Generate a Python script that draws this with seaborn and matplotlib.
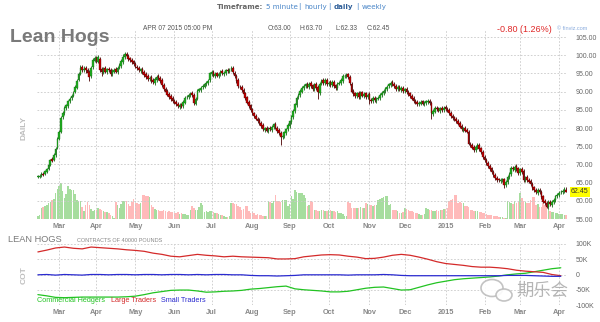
import numpy as np
import pandas as pd
import matplotlib
matplotlib.use("Agg")
import matplotlib.pyplot as plt
import matplotlib.transforms as mtransforms
from matplotlib.patches import Ellipse
import seaborn as sns

# ---------------- data ----------------
title = "Lean Hogs"
last_date = "2015-04-07"

open_ = [
66.5, 66.6, 66.9, 67.5, 67.3, 68.0, 68.7, 69.8, 71.4, 71.1,
72.5, 74.5, 77.1, 79.0, 82.9, 84.1, 85.4, 86.0, 87.5, 88.2,
88.8, 89.9, 91.0, 93.2, 94.9, 96.7, 95.8, 96.5, 95.9, 95.4,
94.2, 96.8, 98.5, 99.3, 98.2, 99.0, 96.2, 95.2, 96.4, 95.3,
96.3, 95.9, 94.7, 95.5, 96.2, 95.3, 96.6, 97.1, 98.2, 99.4,
100.4, 99.9, 99.1, 98.7, 98.3, 97.7, 96.8, 96.5, 95.7, 96.3,
95.3, 94.8, 94.2, 93.4, 94.0, 93.1, 92.4, 93.2, 94.2, 93.8,
93.1, 91.9, 90.8, 90.2, 89.3, 88.8, 88.2, 87.5, 87.2, 86.6,
85.8, 86.5, 86.0, 87.0, 88.4, 88.5, 89.1, 89.6, 89.0, 86.7,
88.1, 90.3, 90.5, 91.2, 91.4, 92.1, 92.3, 93.1, 94.8, 95.4,
94.3, 95.0, 94.3, 94.7, 95.6, 94.9, 95.1, 96.0, 95.5, 96.1,
96.4, 95.2, 94.4, 93.1, 91.4, 91.3, 90.5, 89.5, 88.4, 87.2,
86.2, 85.1, 84.0, 83.4, 82.4, 82.2, 81.5, 80.8, 79.4, 80.1,
79.2, 80.0, 79.5, 80.2, 81.2, 80.0, 79.4, 78.6, 77.4, 77.8,
78.7, 79.7, 80.6, 81.7, 83.1, 84.7, 86.2, 88.4, 89.0, 90.0,
90.9, 91.5, 92.2, 91.3, 92.3, 91.7, 90.6, 92.1, 91.2, 89.7,
92.2, 93.2, 92.3, 93.3, 92.1, 92.7, 91.8, 92.7, 91.7, 90.9,
92.2, 92.4, 93.0, 94.3, 94.2, 94.7, 94.1, 92.2, 90.1, 89.5,
88.7, 89.6, 88.4, 89.8, 88.8, 89.5, 88.5, 89.3, 87.8, 87.3,
88.3, 87.5, 88.1, 88.2, 89.0, 89.5, 90.1, 90.8, 91.5, 91.9,
92.6, 92.1, 91.6, 90.7, 91.4, 90.5, 91.1, 90.1, 90.7, 89.9,
89.5, 88.9, 88.2, 87.5, 87.1, 86.5, 86.7, 87.3, 86.6, 86.8,
87.2, 87.5, 86.8, 83.9, 84.5, 85.6, 85.3, 84.7, 85.5, 84.9,
85.7, 85.3, 84.9, 84.1, 83.3, 82.9, 82.5, 81.9, 81.3, 80.5,
79.5, 80.0, 79.4, 78.9, 75.6, 75.3, 74.7, 73.9, 74.7, 75.3,
74.4, 73.5, 72.1, 71.3, 70.5, 69.6, 68.9, 67.9, 67.1, 66.3,
65.9, 65.5, 65.7, 65.9, 64.3, 65.2, 66.5, 67.4, 69.1, 68.5,
69.5, 68.9, 67.6, 68.7, 68.1, 65.7, 66.5, 65.8, 65.4, 64.7,
63.7, 63.1, 62.1, 63.0, 62.4, 61.2, 59.9, 59.4, 58.3, 59.7,
58.9, 59.7, 60.2, 61.3, 61.6, 62.3, 62.4, 62.7, 63.0]

high = [
67.0, 67.3, 67.8, 67.9, 68.5, 69.0, 70.3, 71.6, 71.9, 73.0,
74.8, 77.5, 79.4, 83.2, 84.6, 86.0, 86.7, 87.8, 88.5, 89.3,
90.2, 91.7, 93.5, 95.3, 97.2, 97.3, 96.9, 97.0, 96.4, 95.9,
97.0, 99.2, 99.8, 99.8, 100.0, 99.5, 96.8, 96.7, 96.9, 96.6,
96.8, 96.4, 96.1, 96.5, 96.7, 96.9, 97.8, 98.9, 100.2, 100.9,
100.9, 100.4, 99.6, 99.2, 98.8, 98.2, 97.3, 97.0, 96.6, 96.8,
95.8, 95.3, 94.7, 94.3, 94.5, 93.6, 93.9, 94.5, 94.7, 94.3,
93.6, 92.4, 91.3, 90.7, 89.8, 89.3, 88.7, 88.0, 87.7, 87.1,
86.9, 87.0, 87.7, 88.8, 89.1, 89.5, 89.9, 90.1, 89.5, 88.5,
90.7, 91.1, 91.5, 92.0, 92.5, 92.9, 93.5, 95.5, 95.8, 95.9,
95.4, 95.5, 95.3, 96.0, 96.1, 95.7, 96.3, 96.5, 96.5, 96.9,
96.9, 95.7, 94.9, 93.6, 91.9, 91.8, 91.0, 90.0, 88.9, 87.7,
86.7, 85.6, 84.5, 83.9, 82.9, 82.7, 82.0, 81.3, 80.4, 80.6,
80.3, 80.5, 80.8, 81.5, 81.7, 80.5, 79.9, 79.1, 78.4, 79.3,
80.1, 81.3, 82.3, 83.7, 85.1, 87.0, 88.8, 89.7, 90.6, 91.5,
92.1, 92.5, 92.7, 92.7, 92.8, 92.2, 92.5, 92.6, 91.7, 92.6,
93.5, 93.7, 93.7, 93.8, 93.0, 93.2, 93.1, 93.2, 92.2, 92.6,
93.0, 93.7, 94.7, 94.9, 95.1, 95.2, 94.6, 92.7, 90.6, 90.0,
90.0, 90.1, 90.2, 90.3, 89.9, 90.0, 89.7, 89.8, 88.3, 88.7,
88.8, 88.5, 88.8, 89.6, 90.1, 90.7, 91.4, 91.9, 92.5, 93.0,
93.1, 92.6, 92.1, 91.8, 91.9, 91.5, 91.6, 91.1, 91.2, 90.4,
90.0, 89.4, 88.7, 88.0, 87.6, 87.3, 87.7, 87.8, 87.4, 87.8,
87.9, 88.0, 87.3, 85.1, 86.0, 86.1, 85.8, 85.9, 86.0, 86.1,
86.2, 85.8, 85.4, 84.6, 83.8, 83.4, 83.0, 82.4, 81.8, 81.0,
80.4, 80.5, 79.9, 79.4, 76.1, 75.8, 75.2, 75.3, 75.8, 75.8,
74.9, 74.0, 72.6, 71.8, 71.0, 70.1, 69.4, 68.4, 67.6, 66.8,
66.4, 66.3, 66.4, 66.4, 65.8, 67.1, 68.0, 69.5, 69.6, 69.9,
70.0, 69.4, 69.1, 69.2, 68.6, 66.9, 67.0, 66.3, 65.9, 65.2,
64.2, 63.6, 63.4, 63.5, 62.9, 61.7, 60.4, 59.9, 60.1, 60.2,
60.3, 60.8, 61.7, 62.2, 62.7, 63.0, 63.3, 63.8, 63.70]

low = [
66.2, 66.3, 66.5, 66.8, 67.0, 67.6, 68.4, 69.5, 70.6, 70.8,
72.1, 74.1, 76.6, 78.6, 82.4, 83.6, 85.0, 85.6, 87.0, 87.8,
88.4, 89.5, 90.6, 92.8, 94.5, 95.5, 95.3, 95.2, 94.6, 93.0,
93.8, 96.3, 98.0, 97.9, 97.8, 95.5, 94.2, 94.8, 95.0, 94.9,
95.3, 94.3, 94.2, 95.0, 95.0, 94.8, 96.1, 96.6, 97.7, 98.9,
99.3, 98.5, 98.1, 97.7, 97.0, 96.4, 95.9, 95.3, 95.2, 94.7,
94.1, 93.5, 93.0, 92.9, 92.5, 92.1, 91.9, 92.7, 93.1, 92.5,
91.3, 90.1, 89.5, 88.7, 88.1, 87.5, 86.9, 86.5, 86.0, 85.5,
85.3, 85.4, 85.5, 86.5, 87.9, 88.0, 88.6, 88.6, 86.3, 86.2,
87.6, 89.8, 90.0, 90.7, 90.9, 91.6, 91.8, 92.6, 94.3, 94.0,
93.8, 93.9, 93.8, 94.2, 94.5, 94.4, 94.6, 95.1, 95.0, 95.6,
94.9, 93.7, 92.5, 91.1, 90.7, 89.9, 88.9, 87.7, 86.5, 85.5,
84.5, 83.6, 82.7, 82.1, 81.5, 80.8, 80.1, 79.1, 78.9, 78.8,
78.7, 79.1, 79.0, 79.7, 79.6, 78.7, 78.0, 75.2, 76.9, 77.3,
78.2, 79.2, 80.1, 81.2, 82.6, 84.2, 85.7, 87.9, 88.5, 89.5,
90.4, 91.0, 90.9, 90.8, 91.1, 90.3, 90.1, 90.5, 88.0, 89.2,
91.7, 91.9, 91.8, 91.5, 91.6, 91.4, 91.3, 91.1, 90.5, 90.4,
91.7, 91.9, 92.5, 93.8, 93.7, 93.5, 91.8, 89.5, 88.9, 88.3,
88.2, 88.0, 87.9, 88.4, 88.3, 88.1, 88.0, 86.5, 86.9, 86.8,
87.1, 87.0, 87.6, 87.7, 88.5, 89.0, 89.6, 90.3, 91.0, 91.4,
91.5, 91.0, 90.3, 90.2, 90.1, 90.0, 89.7, 89.6, 89.3, 88.9,
88.3, 87.6, 86.9, 86.5, 86.1, 86.0, 86.2, 86.2, 86.1, 86.3,
86.7, 86.4, 82.4, 83.4, 84.0, 84.7, 84.3, 84.2, 84.5, 84.4,
84.7, 84.3, 83.5, 82.7, 82.3, 81.9, 81.3, 80.7, 79.9, 79.1,
79.0, 78.8, 78.5, 75.2, 74.7, 74.1, 73.5, 73.4, 74.2, 73.8,
72.9, 71.5, 70.7, 69.9, 69.0, 68.3, 67.3, 66.5, 65.7, 65.3,
65.1, 65.0, 65.2, 63.6, 63.8, 64.7, 66.0, 66.9, 68.1, 68.0,
68.3, 67.2, 67.1, 67.5, 65.3, 65.2, 65.2, 64.8, 64.1, 63.1,
62.5, 61.8, 61.6, 61.8, 60.5, 59.3, 58.8, 57.9, 57.8, 58.5,
58.4, 59.2, 59.7, 60.8, 61.1, 61.8, 61.9, 62.2, 62.33]

close = [
66.7, 66.9, 67.4, 67.2, 68.1, 68.6, 69.9, 71.2, 71.0, 72.6,
74.3, 77.0, 78.8, 82.7, 84.0, 85.5, 86.2, 87.4, 88.0, 88.9,
89.7, 91.2, 93.0, 94.8, 96.6, 96.0, 96.3, 95.8, 95.2, 94.0,
96.5, 98.6, 99.1, 98.4, 99.5, 96.0, 95.4, 96.2, 95.5, 96.1,
95.8, 94.8, 95.6, 96.0, 95.5, 96.4, 97.3, 98.4, 99.6, 100.3,
99.8, 99.0, 98.6, 98.2, 97.5, 96.9, 96.4, 95.8, 96.1, 95.2,
94.6, 94.0, 93.5, 93.8, 93.0, 92.6, 93.4, 94.0, 93.6, 93.0,
91.8, 90.6, 90.0, 89.2, 88.6, 88.0, 87.4, 87.0, 86.5, 86.0,
86.4, 85.9, 87.2, 88.3, 88.6, 89.0, 89.4, 89.1, 86.8, 88.0,
90.2, 90.6, 91.0, 91.5, 92.0, 92.4, 93.0, 95.0, 95.3, 94.5,
94.9, 94.4, 94.8, 95.5, 95.0, 95.2, 95.8, 95.6, 96.0, 96.3,
95.4, 94.2, 93.0, 91.6, 91.2, 90.4, 89.4, 88.2, 87.0, 86.0,
85.0, 84.1, 83.2, 82.6, 82.0, 81.3, 80.6, 79.6, 79.9, 79.3,
79.8, 79.6, 80.3, 81.0, 80.1, 79.2, 78.5, 77.6, 77.9, 78.8,
79.6, 80.8, 81.8, 83.2, 84.6, 86.5, 88.3, 89.2, 90.1, 91.0,
91.6, 92.0, 91.4, 92.2, 91.6, 90.8, 92.0, 91.0, 89.8, 92.1,
93.0, 92.4, 93.2, 92.0, 92.5, 91.9, 92.6, 91.6, 91.0, 92.1,
92.5, 93.2, 94.2, 94.4, 94.6, 94.0, 92.3, 90.0, 89.4, 88.8,
89.5, 88.5, 89.7, 88.9, 89.4, 88.6, 89.2, 87.7, 87.4, 88.2,
87.6, 88.0, 88.3, 89.1, 89.6, 90.2, 90.9, 91.4, 92.0, 92.5,
92.0, 91.5, 90.8, 91.3, 90.6, 91.0, 90.2, 90.6, 89.8, 89.4,
88.8, 88.1, 87.4, 87.0, 86.6, 86.8, 87.2, 86.7, 86.9, 87.3,
87.4, 86.9, 84.0, 84.6, 85.5, 85.2, 84.8, 85.4, 85.0, 85.6,
85.2, 84.8, 84.0, 83.2, 82.8, 82.4, 81.8, 81.2, 80.4, 79.6,
79.9, 79.3, 79.0, 75.7, 75.2, 74.6, 74.0, 74.8, 75.2, 74.3,
73.4, 72.0, 71.2, 70.4, 69.5, 68.8, 67.8, 67.0, 66.2, 65.8,
65.6, 65.8, 65.9, 64.4, 65.3, 66.6, 67.5, 69.0, 68.6, 69.4,
68.8, 67.7, 68.6, 68.0, 65.8, 66.4, 65.7, 65.3, 64.6, 63.6,
63.0, 62.3, 62.9, 62.3, 61.0, 59.8, 59.3, 58.4, 59.6, 59.0,
59.8, 60.3, 61.2, 61.7, 62.2, 62.5, 62.8, 63.3, 62.45]

volume_k = [
3, 4, 11, 12, 13, 14, 16, 17, 19, 20,
26, 30, 33, 36, 28, 21, 25, 33, 30, 29,
29, 25, 19, 18, 18, 12, 8, 14, 17, 14,
10, 8, 9, 9, 11, 10, 9, 8, 7, 7,
6, 4, 3, 1, 17, 14, 11, 15, 18, 18,
18, 15, 13, 17, 20, 16, 16, 15, 16, 24,
24, 23, 23, 22, 14, 12, 10, 9, 9, 8,
8, 9, 8, 7, 8, 7, 7, 6, 6, 7,
5, 6, 5, 5, 4, 4, 9, 13, 11, 9,
9, 12, 16, 14, 7, 8, 7, 8, 8, 7,
6, 6, 5, 4, 4, 3, 2, 2, 3, 16,
16, 15, 15, 13, 12, 9, 10, 13, 13, 8,
6, 7, 6, 4, 5, 4, 4, 3, 3, 3,
18, 17, 16, 18, 24, 18, 18, 17, 19, 19,
19, 13, 15, 23, 20, 29, 27, 26, 26, 26,
24, 21, 13, 14, 18, 17, 9, 9, 8, 8,
9, 9, 8, 8, 9, 9, 8, 8, 7, 8,
6, 6, 5, 3, 3, 17, 16, 11, 11, 11,
11, 11, 12, 11, 11, 16, 15, 14, 14, 13,
14, 14, 19, 20, 21, 22, 23, 23, 14, 15,
9, 9, 9, 8, 6, 6, 7, 11, 10, 9,
8, 8, 7, 6, 6, 5, 4, 4, 5, 11,
10, 9, 9, 8, 8, 9, 8, 9, 9, 10,
10, 11, 18, 19, 20, 24, 24, 16, 17, 16,
16, 13, 13, 12, 9, 9, 8, 8, 8, 7,
7, 6, 6, 5, 4, 4, 4, 3, 3, 3,
2, 2, 2, 1, 1, 18, 17, 16, 15, 18,
16, 17, 26, 21, 18, 17, 16, 16, 19, 22,
22, 14, 15, 12, 12, 16, 14, 12, 10, 8,
7, 7, 6, 6, 5, 5, 5, 4, 4]

# weekly COT net positions (thousands of contracts), weeks starting 2014-02-13
cot_start = "2014-02-13"
cot_commercial = [
-66, -70, -75, -76, -75, -74, -74, -74, -74, -74,
-73, -71, -66, -60, -56, -52, -51, -51, -54, -58,
-57, -55, -54, -52, -48, -46, -43, -40, -38, -47,
-50, -52, -54, -57, -57, -55, -50, -45, -42, -41,
-46, -51, -50, -42, -34, -27, -22, -17, -14, -12,
-10, -8, -5, -1, 2, 4, 9, 14, 19, 22]
cot_large = [
74, 80, 87, 90, 86, 84, 90, 88, 86, 84,
81, 79, 76, 70, 66, 60, 58, 62, 66, 63,
61, 58, 60, 58, 57, 56, 55, 51, 51, 52,
58, 61, 64, 65, 64, 60, 57, 52, 53, 57,
63, 66, 63, 57, 50, 42, 36, 33, 30, 26,
24, 24, 22, 19, 14, 11, 9, 7, 0, -4]
cot_small = [
-1, 0, -2, 0, -1, -2, 0, 0, -1, 0,
0, -1, 0, 0, -1, 0, 0, -1, 0, -1,
0, 0, -1, -1, -3, -4, -4, -5, -4, -3,
-1, -1, -1, -1, -1, -2, -1, -1, -1, 0,
-1, -3, -4, -4, -4, -4, -4, -4, -4, -4,
-4, -4, -4, -3, -3, -3, -4, -5, -6, -6]
cot_names = ["Commercial Hedgers", "Large Traders", "Small Traders"]

price_ticks = [55, 60, 65, 70, 75, 80, 85, 90, 95, 100, 105]
cot_ticks = [-100, -50, 0, 50, 100]
cot_tick_labels = ["-100K", "-50K", "0", "50K", "100K"]

# ---------------- styling ----------------
sns.set_theme(style="white")
plt.rcParams['font.family'] = ['Liberation Sans', 'DejaVu Sans']

W, H = 600, 322
fig = plt.figure(figsize=(6, 3.22), dpi=100)
fig.patch.set_facecolor("white")

def fx(px):
    return px / W

def fy(py):
    return 1 - py / H

n = min(len(open_), len(high), len(low), len(close), len(volume_k))
o = np.array(open_[:n]); h = np.array(high[:n]); l = np.array(low[:n]); c = np.array(close[:n])
vol = np.array(volume_k[:n], dtype=float)
idx = np.arange(n)
dates = pd.bdate_range(end=last_date, periods=n)

# month tick positions (first trading day of each month)
month_pos, month_lab = [], []
for i, d in enumerate(dates):
    if i == 0 or d.month != dates[i - 1].month:
        if i == 0 and d.day > 1:
            continue
        month_pos.append(i)
        month_lab.append(str(d.year) if d.month == 1 else d.strftime("%b"))

GRID = dict(color="#c9c9c9", linestyle=(0, (2, 2)), linewidth=0.6)
L, R = 37, 567

# ---------------- price panel ----------------
ax = fig.add_axes([fx(L), fy(219), fx(R) - fx(L), (219 - 30) / H])
axv = ax.twinx()
ax.set_zorder(axv.get_zorder() + 1)
ax.patch.set_visible(False)

up = c >= o
vcol = np.where(up, "#a6dd9e", "#ffbaba")
axv.bar(idx, vol, width=0.85, color=vcol, linewidth=0)
axv.set_ylim(0, vol.max() * 5.25)
axv.set_yticks([])
for s in axv.spines.values():
    s.set_visible(False)

wick_col = np.where(up, "#146a14", "#4a0000")
body_col = np.where(up, "#1fae1f", "#c40000")
ax.vlines(idx, l, h, colors=wick_col, linewidth=0.6, zorder=3)
ax.bar(idx, np.maximum(np.abs(c - o), 0.12), bottom=np.minimum(o, c), width=0.9,
       color=body_col, edgecolor=wick_col, linewidth=0.25, zorder=4)

ax.set_xlim(-0.5, n - 0.5)
ax.set_ylim(55, 55 + 189 / 3.64)
ax.set_yticks(price_ticks)
ax.set_yticklabels([f"{t:.2f}" for t in price_ticks])
ax.yaxis.tick_right()
ax.tick_params(axis="y", length=0, pad=6, labelsize=5, labelcolor="#666666")
ax.set_xticks(month_pos)
ax.set_xticklabels(month_lab)
ax.tick_params(axis="x", length=0, pad=3, labelsize=5.3, labelcolor="#888888")
for t in ax.get_xticklabels():
    t.set_fontweight("bold")
ax.grid(True, **GRID)
ax.axvline(n - 0.5, **GRID)
for s in ax.spines.values():
    s.set_visible(False)

trans = mtransforms.blended_transform_factory(ax.transAxes, ax.transData)
ax.text(1 + 4 / (R - L), c[-1], f"{c[-1]:.2f}", transform=trans, ha="left", va="center",
        fontsize=5, color="#333333",
        bbox=dict(boxstyle="square,pad=0.2", fc="#ffff00", ec="none"))

# ---------------- COT panel ----------------
axc = fig.add_axes([fx(L), fy(305), fx(R) - fx(L), 61 / H])
cot_dates = pd.date_range(cot_start, periods=len(cot_large), freq="7D")
cot_pos = dates.get_indexer(cot_dates)
cot_df = pd.DataFrame({"pos": cot_pos,
                       cot_names[0]: cot_commercial,
                       cot_names[1]: cot_large,
                       cot_names[2]: cot_small})
cot_df = cot_df[cot_df["pos"] >= 0].melt(id_vars="pos", var_name="group", value_name="net")
pal = {cot_names[0]: "#22c322", cot_names[1]: "#d42a2a", cot_names[2]: "#2a2ad0"}
sns.lineplot(data=cot_df, x="pos", y="net", hue="group", palette=pal, ax=axc,
             legend=False, linewidth=0.9)
axc.set_xlim(-0.5, n - 0.5)
axc.set_ylim(-100, 100)
axc.set_yticks(cot_ticks)
axc.set_yticklabels(cot_tick_labels)
axc.yaxis.tick_right()
axc.tick_params(axis="y", length=0, pad=6, labelsize=5, labelcolor="#666666")
axc.set_xticks(month_pos)
axc.set_xticklabels(month_lab)
axc.tick_params(axis="x", length=0, pad=3, labelsize=5.3, labelcolor="#888888")
for t in axc.get_xticklabels():
    t.set_fontweight("bold")
axc.set_xlabel("")
axc.set_ylabel("")
axc.grid(True, **GRID)
axc.axvline(n - 0.5, **GRID)
for s in axc.spines.values():
    s.set_visible(False)

# legend texts
for name, px in zip(cot_names, [37, 111, 161]):
    fig.text(fx(px), fy(300), name, fontsize=5.2, color=pal[name], ha="left", va="center")

# ---------------- header texts ----------------
fig.text(fx(10), fy(37), title, fontsize=14, fontweight="bold", color="#7a7a7a", ha="left", va="center")
fig.text(fx(24), fy(128), "DAILY", rotation=90, fontsize=6, fontweight="bold", color="#bdbdbd", ha="center", va="center")
fig.text(fx(24), fy(275), "COT", rotation=90, fontsize=6, fontweight="bold", color="#bdbdbd", ha="center", va="center")
fig.text(fx(8), fy(240), "LEAN HOGS", fontsize=6.7, color="#7a7a7a", ha="left", va="center")
fig.text(fx(77), fy(240), "CONTRACTS OF 40000 POUNDS", fontsize=4, color="#888888", ha="left", va="center")

blue = "#4a86c8"
tf = [("Timeframe:", 217, "#666666", "bold"), ("5 minute", 266, blue, "normal"),
      ("|", 298, blue, "normal"), ("hourly", 304, blue, "normal"), ("|", 328, blue, "normal"),
      ("daily", 334, "#2f5f99", "bold"), ("|", 356, blue, "normal"), ("weekly", 362, blue, "normal")]
for s, px, col, fw in tf:
    fig.text(fx(px), fy(7), s, fontsize=5.1, color=col, fontweight=fw, ha="left", va="center",
             family=["DejaVu Sans"])

info = [("APR 07 2015 05:00 PM", 143), ("O:63.00", 268), ("H:63.70", 300),
        ("L:62.33", 335), ("C:62.45", 367)]
for s, px in info:
    fig.text(fx(px), fy(29), s, fontsize=4.8, color="#555555", ha="left", va="center")
fig.text(fx(497), fy(29), "-0.80 (1.26%)", fontsize=6.5, color="#e02828", ha="left", va="center")
fig.text(fx(557), fy(28), "\u00a9 finviz.com", fontsize=4, color="#88aadd", ha="left", va="center")

# watermark
for (cx, cy, w, hh) in [(492, 288, 22, 17), (504, 295, 16, 12)]:
    e = Ellipse((fx(cx), fy(cy)), fx(w), hh / H, transform=fig.transFigure,
                fc="white", ec="#bdbdbd", lw=1.2, alpha=0.9)
    fig.add_artist(e)
fig.text(fx(516), fy(291), "期乐会", fontsize=12.5, color="#a8a8a8", alpha=0.85,
         family=["Noto Sans CJK SC", "DejaVu Sans"], ha="left", va="center")

fig.savefig("out.png", dpi=100, facecolor="white")
